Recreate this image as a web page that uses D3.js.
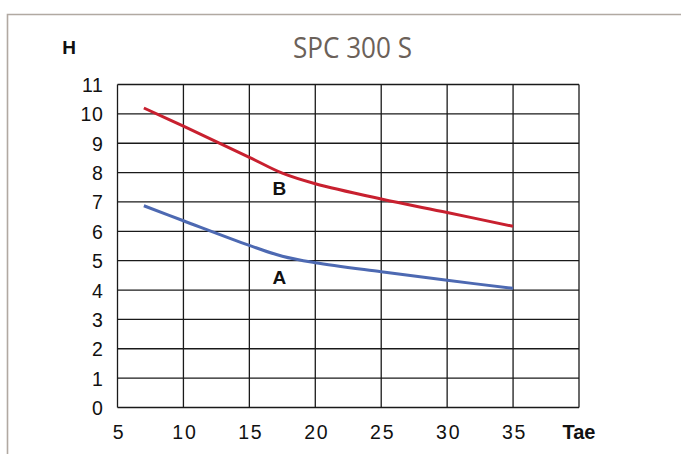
<!DOCTYPE html>
<html>
<head>
<meta charset="utf-8">
<script src="https://cdn.jsdelivr.net/npm/d3@7"></script>
<style>
  html, body { margin: 0; padding: 0; background: #fff; }
  svg { display: block; }
</style>
</head>
<body>
<svg id="chart" width="681" height="454"></svg>
<script>
const title = "SPC 300 S";
const yAxisLabel = "H";
const xAxisLabel = "Tae";
const xTicks = [5, 10, 15, 20, 25, 30, 35];
const yTicks = [0, 1, 2, 3, 4, 5, 6, 7, 8, 9, 10, 11];
const xGrid = [5, 10, 15, 20, 25, 30, 35, 40];
const seriesNames = ["A", "B"];
const seriesX = [7, 10, 15, 17.5, 20, 25, 30, 35];
const seriesA = [6.87, 6.36, 5.52, 5.15, 4.93, 4.62, 4.33, 4.06];
const seriesB = [10.2, 9.58, 8.52, 7.98, 7.62, 7.1, 6.64, 6.17];
const labelPos = [[17.5, 4.25], [17.5, 7.28]];

const svg = d3.select("#chart");
const x = d3.scaleLinear().domain([5, 40]).range([117.5, 579]);
const y = d3.scaleLinear().domain([0, 11]).range([407.5, 84.5]);

// frame border
svg.append("path")
  .attr("d", "M7.5,454 L7.5,14.5 L681,14.5")
  .attr("fill", "none").attr("stroke", "#b1a9a2").attr("stroke-width", 1.6);

// grid
const g = svg.append("g");
g.selectAll("line.h").data(yTicks).enter().append("line")
  .attr("x1", x(5)).attr("x2", x(40))
  .attr("y1", d => y(d)).attr("y2", d => y(d))
  .attr("stroke", "#1a1a1a").attr("stroke-width", 1.3);
g.selectAll("line.v").data(xGrid).enter().append("line")
  .attr("y1", y(0)).attr("y2", y(11))
  .attr("x1", d => x(d)).attr("x2", d => x(d))
  .attr("stroke", "#1a1a1a").attr("stroke-width", 1.3);

// axes labels (via d3 axes, domain/ticks hidden)
const yAxis = svg.append("g").attr("transform", `translate(${x(5)},0)`)
  .call(d3.axisLeft(y).tickValues(yTicks).tickSize(0).tickPadding(14));
yAxis.select(".domain").remove();
yAxis.selectAll("text")
  .attr("font-family", "'Liberation Sans', Arial, sans-serif")
  .attr("font-size", 19.5).attr("fill", "#111").attr("letter-spacing", 0.6)
  .attr("dy", "0.36em");

const xAxis = svg.append("g").attr("transform", `translate(0,${y(0)})`)
  .call(d3.axisBottom(x).tickValues(xTicks).tickFormat(d3.format("d")).tickSize(0).tickPadding(18));
xAxis.select(".domain").remove();
xAxis.selectAll("text")
  .attr("font-family", "'Liberation Sans', Arial, sans-serif")
  .attr("font-size", 19.5).attr("fill", "#111").attr("letter-spacing", 1.8)
  .attr("dx", 1);

// axis titles
svg.append("text").text(yAxisLabel)
  .attr("x", 69).attr("y", 54).attr("text-anchor", "middle")
  .attr("font-family", "'Liberation Sans', Arial, sans-serif")
  .attr("font-weight", "bold").attr("font-size", 19).attr("fill", "#111");
svg.append("text").text(xAxisLabel)
  .attr("x", x(40)).attr("y", 439).attr("text-anchor", "middle")
  .attr("font-family", "'Liberation Sans', Arial, sans-serif")
  .attr("font-weight", "bold").attr("font-size", 20).attr("fill", "#111");

// title
svg.append("text").text(title)
  .attr("x", 293).attr("y", 58)
  .attr("textLength", 119).attr("lengthAdjust", "spacingAndGlyphs")
  .attr("font-family", "'Liberation Sans Narrow', 'Open Sans', sans-serif")
  .attr("font-size", 29).attr("fill", "#6b6159");

// curves
const line = d3.line().x((d, i) => x(seriesX[i])).y(d => y(d)).curve(d3.curveCatmullRom.alpha(0.5));
svg.append("path").datum(seriesA).attr("d", line)
  .attr("fill", "none").attr("stroke", "#4d69b2").attr("stroke-width", 3);
svg.append("path").datum(seriesB).attr("d", line)
  .attr("fill", "none").attr("stroke", "#c8202f").attr("stroke-width", 3);

// series labels
svg.selectAll("text.series").data(seriesNames).enter().append("text")
  .text(d => d)
  .attr("x", (d, i) => x(labelPos[i][0]) - 3)
  .attr("y", (d, i) => y(labelPos[i][1]) + 1)
  .attr("text-anchor", "middle")
  .attr("font-family", "'Liberation Sans', Arial, sans-serif")
  .attr("font-weight", "bold").attr("font-size", 19).attr("fill", "#111");
</script>
</body>
</html>
